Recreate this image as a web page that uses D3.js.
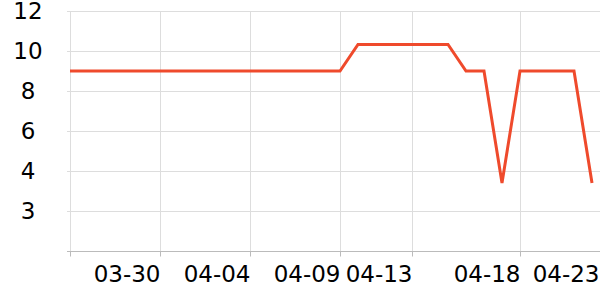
<!DOCTYPE html>
<html>
<head>
<meta charset="utf-8">
<script src="https://cdn.jsdelivr.net/npm/d3@7"></script>
<style>
  body { margin: 0; background: #fff; }
  text { font-family: "DejaVu Sans", sans-serif; fill: #000; }
</style>
</head>
<body>
<div id="chart"></div>
<script>
// categories (the last one only carries an axis label)
var dates = ["03-25","03-26","03-27","03-28","03-29","03-30","03-31","04-01","04-02","04-03",
             "04-04","04-05","04-06","04-07","04-08","04-09","04-10","04-11","04-12","04-13",
             "04-14","04-14","04-15","04-16","04-17","04-18","04-19","04-20","04-21","04-22","04-23"];
var values = [9,9,9,9,9,9,9,9,9,9,
              9,9,9,9,9,9,10.33,10.33,10.33,10.33,
              10.33,10.33,9,9,3.4,9,9,9,9,3.4];
var xTickIndex = [5, 10, 15, 19, 25, 30];
var yTickValues = [12, 10, 8, 6, 4, 2];
var yTickLabels = ["12", "10", "8", "6", "4", "3"];

var W = 600, H = 300;
var margin = {left: 70, top: 11, bottom: 49};

var svg = d3.select("#chart").append("svg")
  .attr("width", W).attr("height", H);

var x = d3.scaleLinear().domain([0, dates.length - 1]).range([margin.left, margin.left + 18 * (dates.length - 1)]);
var y = d3.scaleLinear().domain([0, 12]).range([H - margin.bottom, margin.top]);

// horizontal grid
svg.append("g").selectAll("line")
  .data(yTickValues)
  .enter().append("line")
    .attr("x1", margin.left - 3).attr("x2", W)
    .attr("y1", d => y(d) + 0.5).attr("y2", d => y(d) + 0.5)
    .attr("stroke", "#ddd").attr("stroke-width", 1);

// vertical grid
svg.append("g").selectAll("line")
  .data([0].concat(xTickIndex))
  .enter().append("line")
    .attr("x1", d => x(d) + 0.5).attr("x2", d => x(d) + 0.5)
    .attr("y1", margin.top).attr("y2", y(0))
    .attr("stroke", "#ddd").attr("stroke-width", 1);

// x axis
var xAxis = d3.axisBottom(x)
  .tickValues([0].concat(xTickIndex))
  .tickSize(5)
  .tickFormat(d => d === 0 ? "" : dates[d]);
var gx = svg.append("g")
  .attr("transform", "translate(0," + (y(0) + 0.5) + ")")
  .call(xAxis);
gx.select(".domain").attr("stroke", "#bbb").attr("d", "M" + (margin.left - 3) + ",0H" + W);
gx.selectAll(".tick line").attr("stroke", "#bbb");
gx.selectAll(".tick text")
  .attr("font-size", 23)
  .attr("fill", "#000")
  .attr("text-anchor", "end")
  .attr("y", 14.5)
  .attr("dy", "0.71em")
  .attr("x", function(d) { return Math.min(x(d), W - 1) - x(d); });

// y labels
svg.append("g").selectAll("text")
  .data(yTickValues)
  .enter().append("text")
    .attr("x", 28)
    .attr("y", d => y(d))
    .attr("dy", "0.36em")
    .attr("text-anchor", "middle")
    .attr("font-size", 23)
    .text((d, i) => yTickLabels[i]);

// line
var line = d3.line()
  .x((d, i) => x(i))
  .y(d => y(d));
svg.append("path")
  .datum(values)
  .attr("d", line)
  .attr("fill", "none")
  .attr("stroke", "#ef4a2c")
  .attr("stroke-width", 3)
  .attr("stroke-linejoin", "miter");
</script>
</body>
</html>
